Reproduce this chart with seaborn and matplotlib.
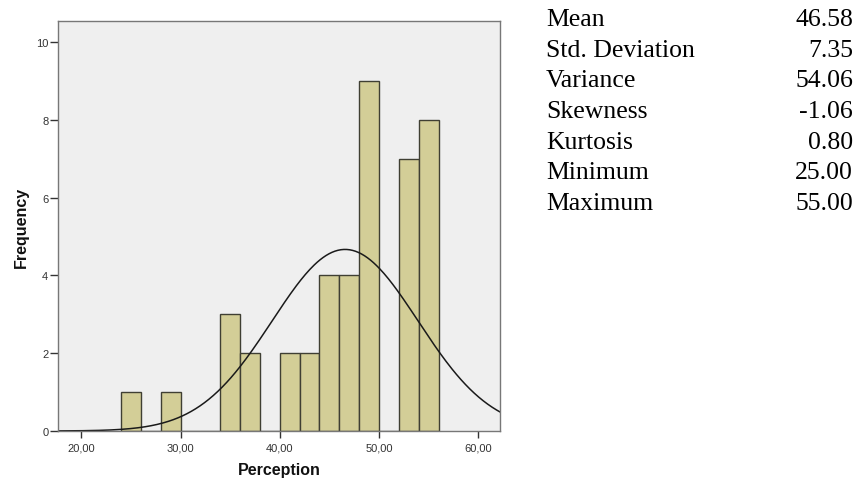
import numpy as np
import pandas as pd
import seaborn as sns
import matplotlib.pyplot as plt

# histogram bins (width 2) and frequencies
bin_edges = [24, 26, 28, 30, 32, 34, 36, 38, 40, 42, 44, 46, 48, 50, 52, 54, 56]
counts = [1, 0, 1, 0, 0, 3, 2, 0, 2, 2, 4, 4, 9, 0, 7, 8]

stat_names = ["Mean", "Std. Deviation", "Variance", "Skewness", "Kurtosis", "Minimum", "Maximum"]
stat_values = ["46.58", "7.35", "54.06", "-1.06", "0.80", "25.00", "55.00"]
mean, sd = 46.58, 7.35
x_ticks = [20, 30, 40, 50, 60]
y_ticks = [0, 2, 4, 6, 8, 10]

centers = [(a + b) / 2 for a, b in zip(bin_edges[:-1], bin_edges[1:])]
df = pd.DataFrame({"Perception": centers, "n": counts})

sns.set_style("white")
plt.rcParams["font.family"] = ["Liberation Sans", "DejaVu Sans"]
fig = plt.figure(figsize=(8.56, 4.81), dpi=100)
ax = fig.add_axes([0.0678, 0.1019, 0.5164, 0.8523])
ax.set_facecolor("#efefef")

sns.histplot(data=df, x="Perception", weights="n", bins=bin_edges, ax=ax,
             color="#d3ce97", edgecolor="#3f3f33", linewidth=1.0, alpha=1.0)

# fitted normal curve
n_total = sum(counts)
bw = bin_edges[1] - bin_edges[0]
xs = np.linspace(17.6, 62.3, 300)
ys = n_total * bw / (sd * np.sqrt(2 * np.pi)) * np.exp(-0.5 * ((xs - mean) / sd) ** 2)
sns.lineplot(x=xs, y=ys, ax=ax, color="#1a1a1a", linewidth=1.1)

ax.set_xlim(17.65, 62.2)
ax.set_ylim(0, 10.54)
ax.set_xticks(x_ticks)
ax.set_xticklabels([f"{t},00" for t in x_ticks])
ax.set_yticks(y_ticks)
ax.tick_params(axis="x", direction="out", length=5, width=1, color="#333333",
               labelsize=8, labelcolor="#333333", bottom=True, pad=3)
ax.tick_params(axis="y", direction="out", length=6, width=1, color="#333333",
               labelsize=8, labelcolor="#333333", left=True, pad=1)
ax.set_xlabel("Perception", fontsize=11.5, fontweight="bold", labelpad=7, color="#111111")
ax.set_ylabel("Frequency", fontsize=11.5, fontweight="bold", labelpad=5, color="#111111")
for s in ax.spines.values():
    s.set_color("#777777")
    s.set_linewidth(1.0)

# descriptive statistics table on the right
for i, (name, val) in enumerate(zip(stat_names, stat_values)):
    y = 1 - (20 + i * 30.7) / 481
    fig.text(546 / 856, y, name, ha="left", va="center", fontsize=18.5,
             family="Liberation Serif", color="black")
    fig.text(853 / 856, y, val, ha="right", va="center", fontsize=18.5,
             family="Liberation Serif", color="black")

fig.savefig("out.png", dpi=100)
